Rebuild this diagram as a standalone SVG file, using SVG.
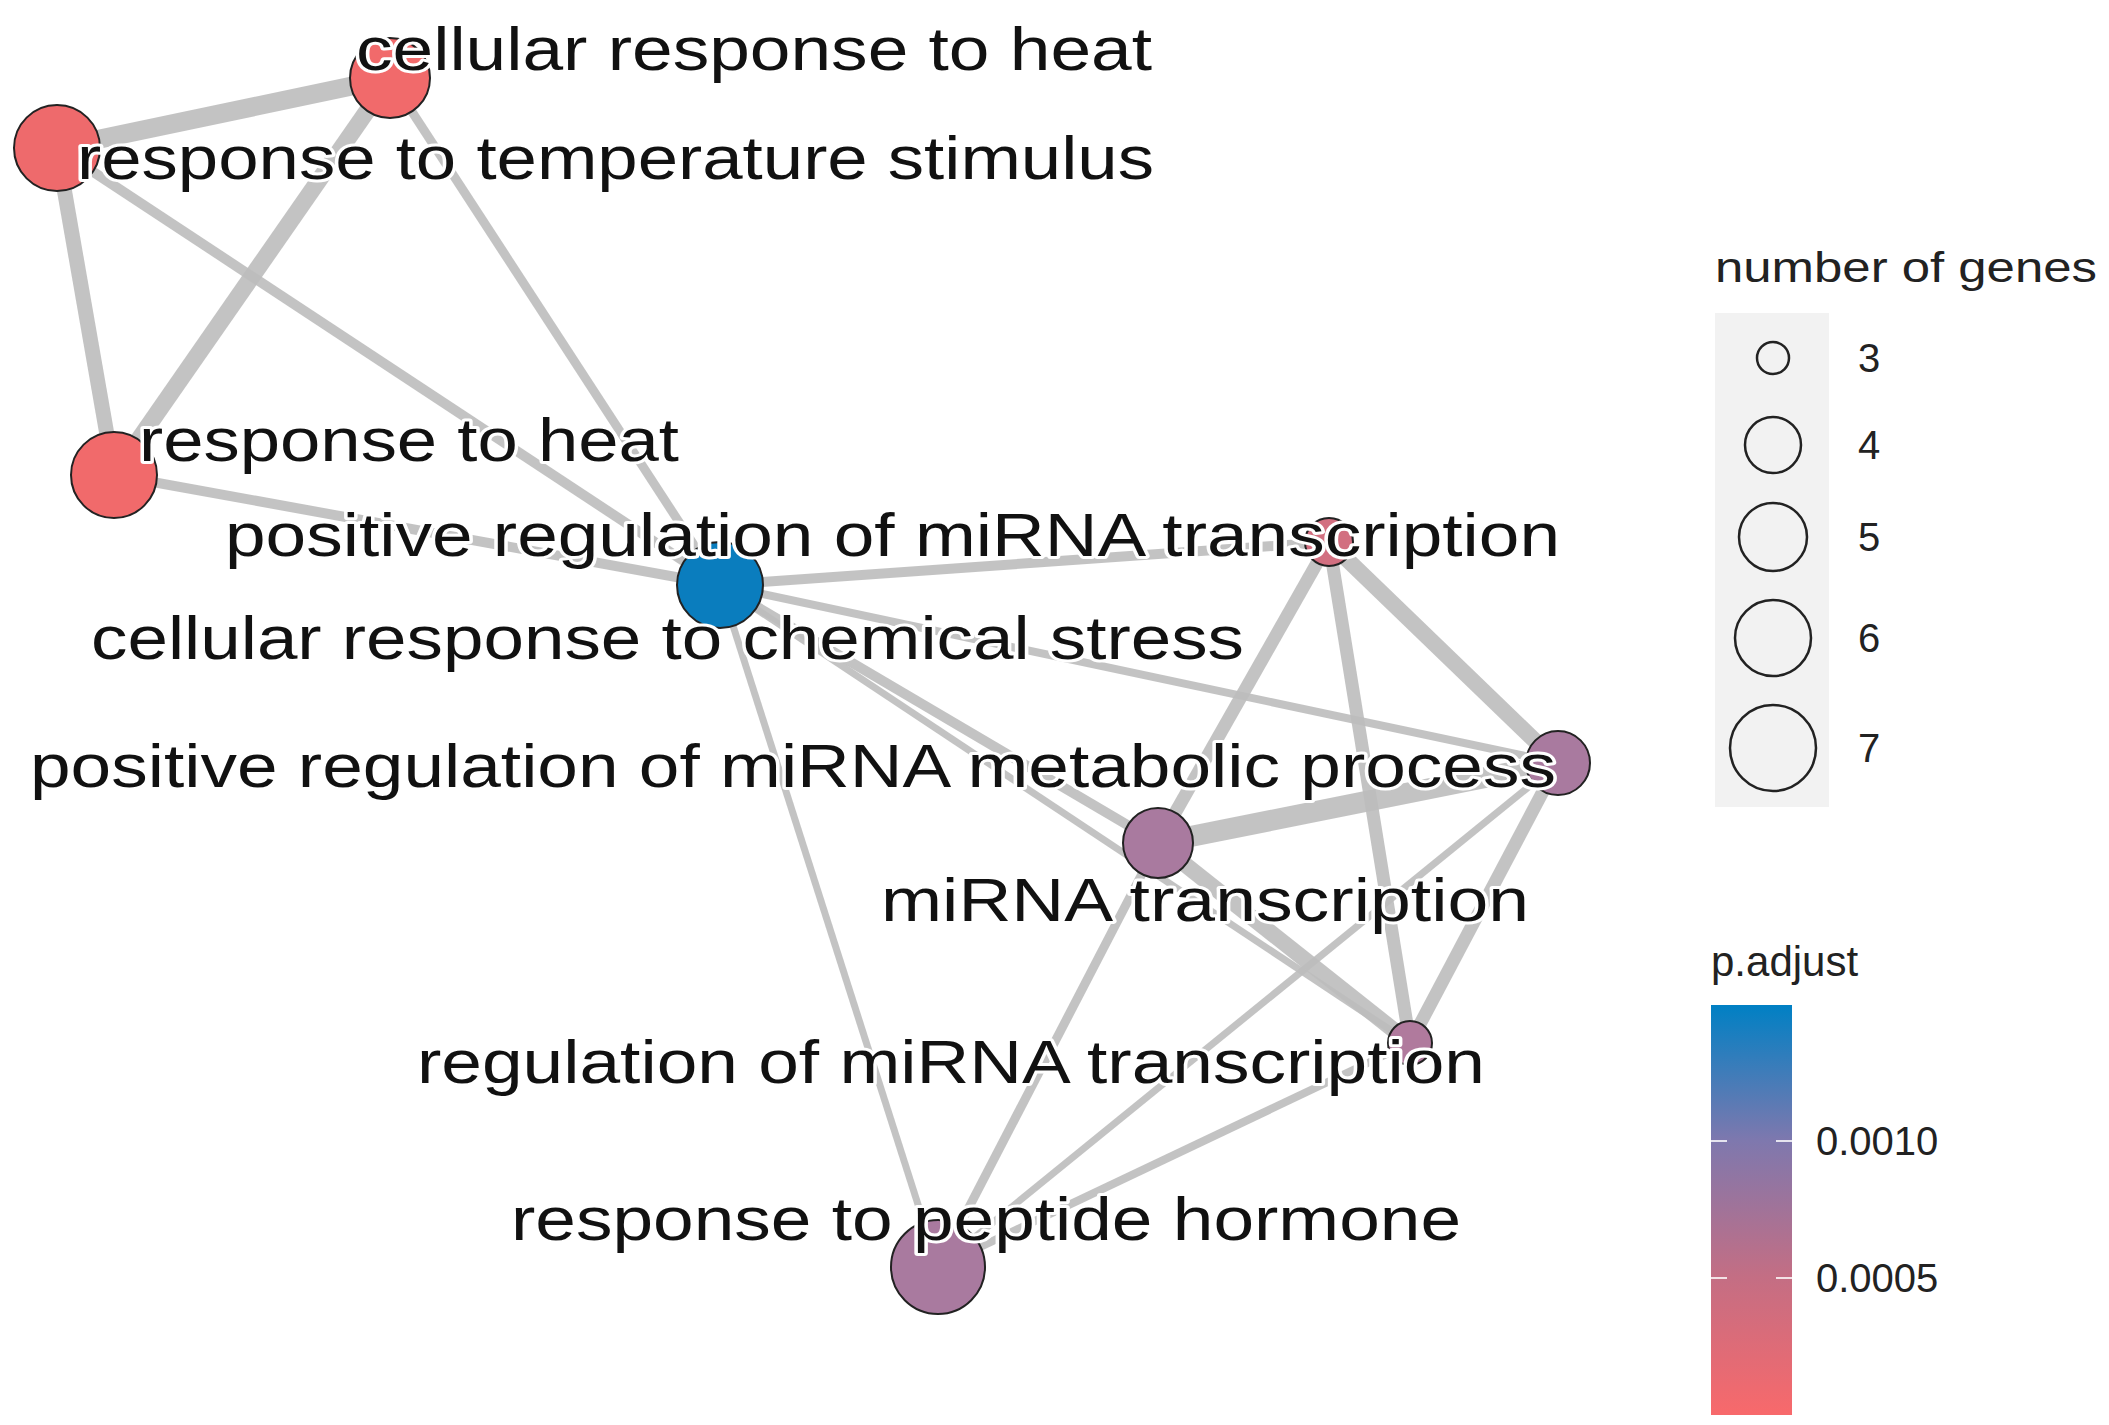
<svg xmlns="http://www.w3.org/2000/svg" width="2109" height="1425" viewBox="0 0 2109 1425">
<style>
.e{stroke:#BDBDBD;stroke-linecap:butt;fill:none;stroke-opacity:0.9}
.n{stroke:#222;stroke-width:2}
.l{font-family:"Liberation Sans",Arial,sans-serif;font-size:62px;fill:#111;stroke:#fff;stroke-width:6;paint-order:stroke;stroke-linejoin:round}
.g{font-family:"Liberation Sans",Arial,sans-serif;fill:#222}
</style>
<defs>
<linearGradient id="pg" x1="0" y1="0" x2="0" y2="1">
<stop offset="0" stop-color="#0080C4"/>
<stop offset="0.33" stop-color="#7E78AE"/>
<stop offset="0.66" stop-color="#C36E84"/>
<stop offset="1" stop-color="#F8696B"/>
</linearGradient>
</defs>
<rect width="2109" height="1425" fill="#fff"/>
<g id="edges">
<line class="e" x1="390" y1="78" x2="57" y2="148" stroke-width="19"/>
<line class="e" x1="390" y1="78" x2="114" y2="475" stroke-width="17"/>
<line class="e" x1="57" y1="148" x2="114" y2="475" stroke-width="15"/>
<line class="e" x1="57" y1="148" x2="720" y2="585" stroke-width="10"/>
<line class="e" x1="390" y1="78" x2="720" y2="585" stroke-width="9"/>
<line class="e" x1="114" y1="475" x2="720" y2="585" stroke-width="10"/>
<line class="e" x1="720" y1="585" x2="1329" y2="542" stroke-width="10"/>
<line class="e" x1="720" y1="585" x2="1558" y2="763" stroke-width="8"/>
<line class="e" x1="720" y1="585" x2="1158" y2="843" stroke-width="10"/>
<line class="e" x1="720" y1="585" x2="1410" y2="1043" stroke-width="7"/>
<line class="e" x1="720" y1="585" x2="938" y2="1267" stroke-width="7"/>
<line class="e" x1="1329" y1="542" x2="1558" y2="763" stroke-width="16"/>
<line class="e" x1="1329" y1="542" x2="1158" y2="843" stroke-width="13"/>
<line class="e" x1="1329" y1="542" x2="1410" y2="1043" stroke-width="13"/>
<line class="e" x1="1558" y1="763" x2="1158" y2="843" stroke-width="21"/>
<line class="e" x1="1558" y1="763" x2="1410" y2="1043" stroke-width="13"/>
<line class="e" x1="1558" y1="763" x2="938" y2="1267" stroke-width="7"/>
<line class="e" x1="1158" y1="843" x2="1410" y2="1043" stroke-width="16"/>
<line class="e" x1="1158" y1="843" x2="938" y2="1267" stroke-width="9"/>
<line class="e" x1="1410" y1="1043" x2="938" y2="1267" stroke-width="8"/>
</g>
<g id="n-crh"><circle class="n" cx="390" cy="78" r="40" fill="#F16A6B"/></g>
<g id="n-rts"><circle class="n" cx="57" cy="148" r="43" fill="#EE6A6C"/></g>
<g id="n-rh"><circle class="n" cx="114" cy="475" r="43" fill="#F16A6B"/></g>
<g id="n-crcs"><circle class="n" cx="720" cy="585" r="43" fill="#0A7DBE"/></g>
<g id="n-prmt"><circle class="n" cx="1329" cy="542" r="24" fill="#D26F80"/></g>
<g id="n-prmmp"><circle class="n" cx="1558" cy="763" r="32" fill="#A97A9F"/></g>
<g id="n-mt"><circle class="n" cx="1158" cy="843" r="35" fill="#A97A9F"/></g>
<g id="n-rmt"><circle class="n" cx="1410" cy="1043" r="22" fill="#B07A9D"/></g>
<g id="n-rph"><circle class="n" cx="938" cy="1267" r="47" fill="#A97A9F"/></g>
<g id="labels">
<text class="l" x="356" y="70" textLength="796" lengthAdjust="spacingAndGlyphs">cellular response to heat</text>
<text class="l" x="77" y="179" textLength="1077" lengthAdjust="spacingAndGlyphs">response to temperature stimulus</text>
<text class="l" x="139" y="461" textLength="540" lengthAdjust="spacingAndGlyphs">response to heat</text>
<text class="l" x="225" y="556" textLength="1335" lengthAdjust="spacingAndGlyphs">positive regulation of miRNA transcription</text>
<text class="l" x="91" y="659" textLength="1153" lengthAdjust="spacingAndGlyphs">cellular response to chemical stress</text>
<text class="l" x="30" y="787" textLength="1526" lengthAdjust="spacingAndGlyphs">positive regulation of miRNA metabolic process</text>
<text class="l" x="881" y="921" textLength="648" lengthAdjust="spacingAndGlyphs">miRNA transcription</text>
<text class="l" x="417" y="1083" textLength="1068" lengthAdjust="spacingAndGlyphs">regulation of miRNA transcription</text>
<text class="l" x="511" y="1240" textLength="950" lengthAdjust="spacingAndGlyphs">response to peptide hormone</text>
</g>
<g id="legend-size">
<text class="g" x="1715" y="282" font-size="42" textLength="382" lengthAdjust="spacingAndGlyphs">number of genes</text>
<rect x="1715" y="313" width="114" height="494" fill="#F2F2F2"/>
<g fill="none" stroke="#222" stroke-width="2.5">
<circle cx="1773" cy="358" r="16"/>
<circle cx="1773" cy="445" r="28"/>
<circle cx="1773" cy="537" r="34"/>
<circle cx="1773" cy="638" r="38"/>
<circle cx="1773" cy="748" r="43"/>
</g>
<g font-size="40">
<text class="g" x="1858" y="372">3</text>
<text class="g" x="1858" y="459">4</text>
<text class="g" x="1858" y="551">5</text>
<text class="g" x="1858" y="652">6</text>
<text class="g" x="1858" y="762">7</text>
</g>
</g>
<g id="legend-color">
<text class="g" x="1711" y="976" font-size="42">p.adjust</text>
<rect x="1711" y="1005" width="81" height="410" fill="url(#pg)"/>
<g stroke="#fff" stroke-width="2" stroke-opacity="0.8">
<line x1="1711" y1="1141" x2="1727" y2="1141"/><line x1="1776" y1="1141" x2="1792" y2="1141"/>
<line x1="1711" y1="1278" x2="1727" y2="1278"/><line x1="1776" y1="1278" x2="1792" y2="1278"/>
</g>
<text class="g" x="1816" y="1155" font-size="40">0.0010</text>
<text class="g" x="1816" y="1292" font-size="40">0.0005</text>
</g>
</svg>
